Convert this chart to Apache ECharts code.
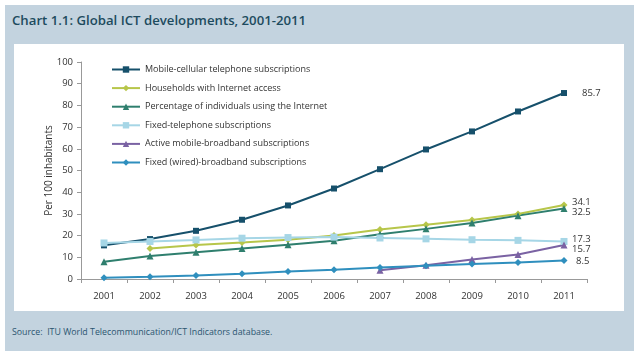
<!DOCTYPE html>
<html><head><meta charset="utf-8">
<script src="https://cdn.jsdelivr.net/npm/echarts@6/dist/echarts.min.js"></script>
<style>
html,body{margin:0;padding:0;background:#fff;}
#wrap{position:absolute;left:5px;top:5px;width:629px;height:346px;background:#c3d3df;}
#inner{position:absolute;left:14px;top:44px;width:610px;height:267px;background:#fff;}
#title{position:absolute;left:12px;top:11px;font-family:"Open Sans",sans-serif;font-weight:600;font-size:13.2px;color:#1d4b5e;}
#src{position:absolute;left:12px;top:326px;font-family:"Open Sans",sans-serif;font-size:8.8px;color:#2b5570;}
#chart{position:absolute;left:0;top:0;width:640px;height:357px;}
</style></head>
<body>
<div id="wrap"></div>
<div id="inner"></div>
<div id="title">Chart 1.1: Global ICT developments, 2001-2011</div>
<div id="src">Source:&nbsp; ITU World Telecommunication/ICT Indicators database.</div>
<div id="chart"></div>
<script>
const years = ['2001','2002','2003','2004','2005','2006','2007','2008','2009','2010','2011'];
const mobileCellular = [15.5, 18.4, 22.2, 27.3, 33.9, 41.7, 50.6, 59.7, 68.0, 77.2, 85.7];
const households = [null, 14.0, 15.7, 16.8, 18.1, 20.0, 22.8, 25.0, 27.2, 30.0, 34.1];
const internetUsers = [8.0, 10.6, 12.3, 14.1, 15.8, 17.6, 20.6, 23.1, 25.8, 29.2, 32.5];
const fixedTelephone = [16.6, 17.3, 18.0, 18.8, 19.1, 19.3, 18.9, 18.5, 18.1, 17.8, 17.3];
const mobileBroadband = [null, null, null, null, null, null, 4.0, 6.3, 9.0, 11.3, 15.7];
const fixedBroadband = [0.6, 1.0, 1.6, 2.4, 3.4, 4.3, 5.3, 6.1, 6.9, 7.6, 8.5];
const yTicks = [0,10,20,30,40,50,60,70,80,90,100];

const FONT = '"Open Sans", sans-serif';
function mk(name, data, color, symbol, size, offX, offY){
  return {
    name, type:'line', data, color, symbol, symbolSize:size,
    lineStyle:{width:2, color}, itemStyle:{color},
    z: 2,
    endLabel:{show:true, formatter: p => p.value.toFixed(1), color:'#333', fontFamily:FONT, fontSize:9.5, offset:[offX, offY]},
    animation:false
  };
}
const chart = echarts.init(document.getElementById('chart'), null, {renderer:'canvas'});
chart.setOption({
  animation:false,
  grid:{left:81, right:53, top:62, bottom:78, containLabel:false},
  legend:{
    orient:'vertical', left:106, top:60, itemWidth:28, itemHeight:8, itemGap:9.6,
    textStyle:{fontFamily:FONT, fontSize:9, color:'#333'},
    data:['Mobile-cellular telephone subscriptions','Households with Internet access','Percentage of individuals using the Internet','Fixed-telephone subscriptions','Active mobile-broadband subscriptions','Fixed (wired)-broadband subscriptions']
  },
  xAxis:{
    type:'category', data:years, boundaryGap:true,
    axisLine:{lineStyle:{color:'#999'}},
    axisTick:{show:true, lineStyle:{color:'#999'}, length:4},
    axisLabel:{fontFamily:FONT, fontSize:9.5, color:'#333', margin:12}
  },
  yAxis:{
    type:'value', min:0, max:100, interval:10,
    name:'Per 100 inhabitants', nameLocation:'middle', nameGap:27, nameRotate:90,
    nameMoveOverlap:false,
    nameTextStyle:{fontFamily:FONT, fontSize:10, color:'#333'},
    axisLine:{show:true, lineStyle:{color:'#999'}},
    axisTick:{show:true, lineStyle:{color:'#999'}, length:4},
    splitLine:{show:false},
    axisLabel:{fontFamily:FONT, fontSize:9.5, color:'#333', margin:8, formatter: v => yTicks.includes(v) ? String(v) : ''}
  },
  series:[
    mk('Mobile-cellular telephone subscriptions', mobileCellular, '#16506b', 'rect', 6, 10, 0),
    mk('Households with Internet access', households, '#b7c64a', 'diamond', 7, 0, -3),
    mk('Percentage of individuals using the Internet', internetUsers, '#2f7f6e', 'triangle', 7, 0, 4),
    mk('Fixed-telephone subscriptions', fixedTelephone, '#a6d6e6', 'rect', 7, 0, -2),
    mk('Active mobile-broadband subscriptions', mobileBroadband, '#7a62a3', 'triangle', 7, 0, 4),
    mk('Fixed (wired)-broadband subscriptions', fixedBroadband, '#2f8fbe', 'diamond', 7, 4, 1)
  ]
});
</script>
</body></html>
